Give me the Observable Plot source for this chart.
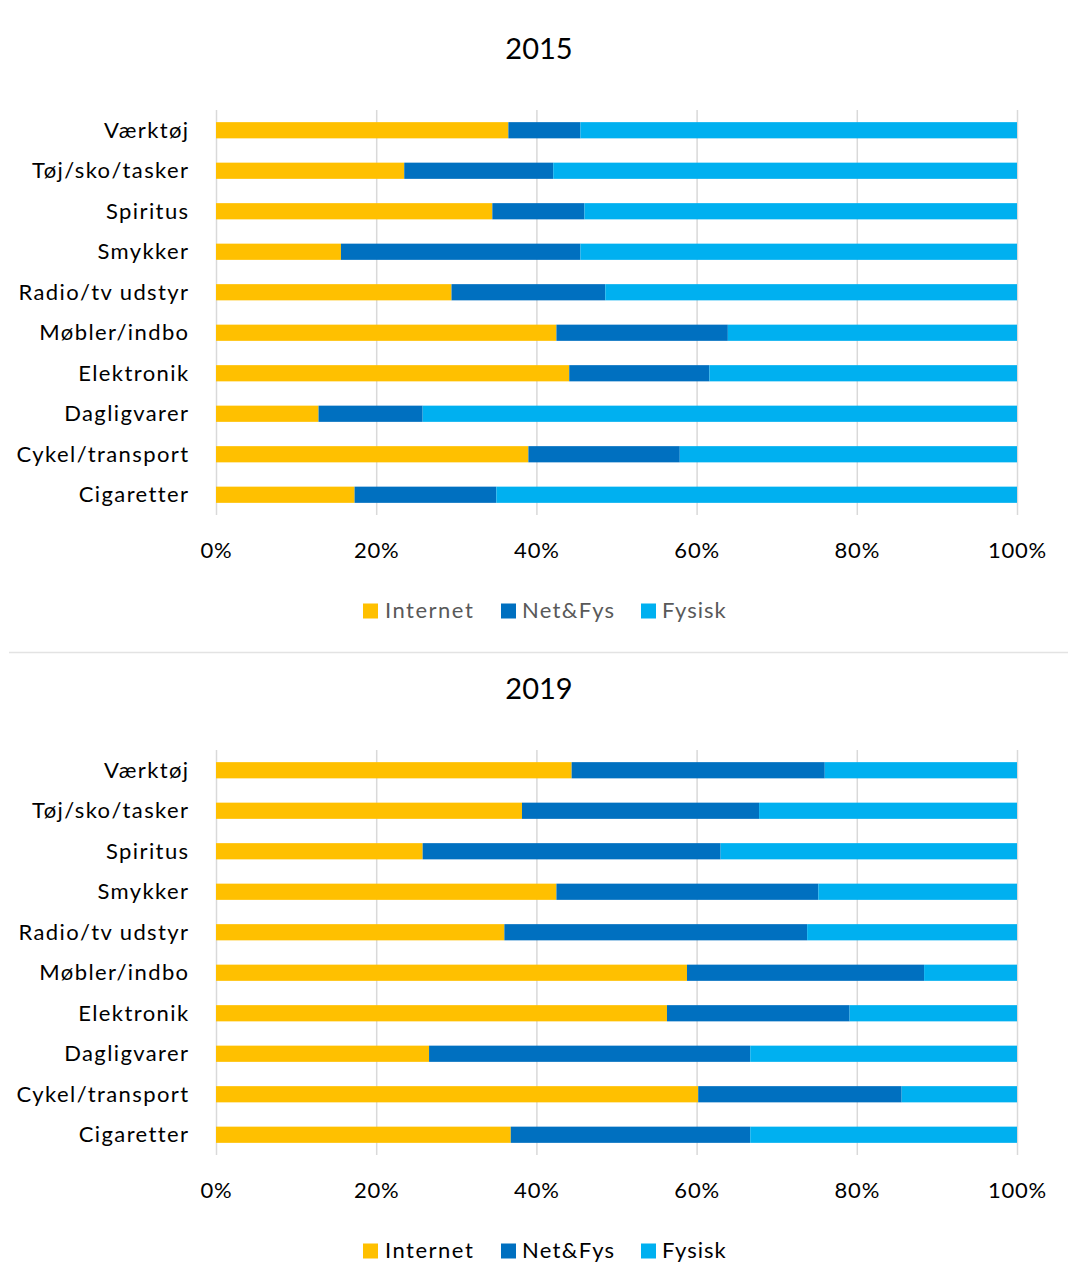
<!DOCTYPE html>
<html>
<head>
<meta charset="utf-8">
<script src="https://cdn.jsdelivr.net/npm/d3@7"></script>
<script src="https://cdn.jsdelivr.net/npm/@observablehq/plot@0.6"></script>
<style>
  html, body { margin: 0; padding: 0; background: #fff; }
  #root { position: relative; width: 1068px; height: 1283px; overflow: hidden; font-family: Lato, "Open Sans", sans-serif; }
  .chart { position: absolute; left: 0; }
  #overlay { position: absolute; left: 0; top: 0; pointer-events: none; }
  .chart [aria-label="y-axis tick label"] text { letter-spacing: 1.4px; }
  .chart [aria-label="x-axis tick label"] text { letter-spacing: 0.8px; }
</style>
</head>
<body>
<div id="root"></div>
<script>
// ---- data (percent shares) ----
const categories = ["Værktøj", "Tøj/sko/tasker", "Spiritus", "Smykker", "Radio/tv udstyr",
                    "Møbler/indbo", "Elektronik", "Dagligvarer", "Cykel/transport", "Cigaretter"];
const series = ["Internet", "Net&Fys", "Fysisk"];
const seriesColors = ["#FFC000", "#0070C0", "#00B0F0"];
const xTicks = [0, 20, 40, 60, 80, 100];
const years = ["2015", "2019"];

const internet2015 = [36.5, 23.5, 34.5, 15.6, 29.4, 42.5, 44.1, 12.8, 39.0, 17.3];
const netfys2015   = [ 9.0, 18.6, 11.5, 29.9, 19.2, 21.4, 17.5, 13.0, 18.9, 17.7];
const fysisk2015   = [54.5, 57.9, 54.0, 54.5, 51.4, 36.1, 38.4, 74.2, 42.1, 65.0];

const internet2019 = [44.4, 38.2, 25.8, 42.5, 36.0, 58.8, 56.3, 26.6, 60.2, 36.8];
const netfys2019   = [31.6, 29.6, 37.2, 32.7, 37.8, 29.6, 22.8, 40.1, 25.4, 29.9];
const fysisk2019   = [24.0, 32.2, 37.0, 24.8, 26.2, 11.6, 20.9, 33.3, 14.4, 33.3];

function buildRows(a, b, c) {
  const rows = [];
  categories.forEach((cat, i) => {
    rows.push({category: cat, series: series[0], value: a[i]});
    rows.push({category: cat, series: series[1], value: b[i]});
    rows.push({category: cat, series: series[2], value: c[i]});
  });
  return rows;
}
const tables = [buildRows(internet2015, netfys2015, fysisk2015),
                buildRows(internet2019, netfys2019, fysisk2019)];

// ---- layout ----
const W = 1068, H = 1283;
const blockOffset = 640;
const root = document.getElementById("root");

function makeChart(rows) {
  return Plot.plot({
    width: W,
    height: 580,
    marginLeft: 216,
    marginRight: 51,
    marginTop: 110,
    marginBottom: 65,
    style: {fontFamily: "Lato, 'Open Sans', sans-serif", fontSize: "22px", color: "#000", background: "transparent"},
    x: {domain: [0, 100], ticks: xTicks, tickFormat: d => d + "%", label: null},
    y: {domain: categories, paddingInner: 0.6, paddingOuter: 0.3, round: false, label: null},
    color: {domain: series, range: seriesColors},
    marks: [
      Plot.gridX(xTicks, {stroke: "#d9d9d9", strokeOpacity: 1, strokeWidth: 1.5}),
      Plot.barX(rows, {x: "value", y: "category", fill: "series"}),
      Plot.axisX(xTicks, {tickSize: 0, tickPadding: 27, tickFormat: d => d + "%", fontSize: 22, fill: "#000", label: null}),
      Plot.axisY({tickSize: 0, tickPadding: 27, fontSize: 22, fill: "#000", label: null})
    ]
  });
}

tables.forEach((rows, k) => {
  const svg = makeChart(rows);
  svg.classList.add("chart");
  svg.style.top = (k * blockOffset) + "px";
  root.appendChild(svg);
});

// overlay: titles, legends, separator
const ov = d3.select(root).append("svg")
  .attr("id", "overlay").attr("width", W).attr("height", H)
  .style("font-family", "Lato, 'Open Sans', sans-serif");

ov.append("line").attr("x1", 9).attr("x2", W).attr("y1", 652.5).attr("y2", 652.5)
  .attr("stroke", "#e3e3e3").attr("stroke-width", 1.5);

const legendX = [{sw: 363, tx: 385, ls: 1.5}, {sw: 501, tx: 522, ls: 1.3}, {sw: 641, tx: 662, ls: 1.0}];
const legendTextColors = ["#595959", "#000"];

years.forEach((yr, k) => {
  const off = k * blockOffset;
  ov.append("text").attr("x", 539).attr("y", 59 + off)
    .attr("text-anchor", "middle").attr("font-size", 29).attr("fill", "#000").text(yr);
  series.forEach((s, i) => {
    ov.append("rect").attr("x", legendX[i].sw).attr("y", 603.5 + off)
      .attr("width", 15).attr("height", 15).attr("fill", seriesColors[i]);
    ov.append("text").attr("x", legendX[i].tx).attr("y", 618 + off)
      .attr("font-size", 22).attr("letter-spacing", legendX[i].ls + "px")
      .attr("fill", legendTextColors[k]).text(s);
  });
});
</script>
</body>
</html>
